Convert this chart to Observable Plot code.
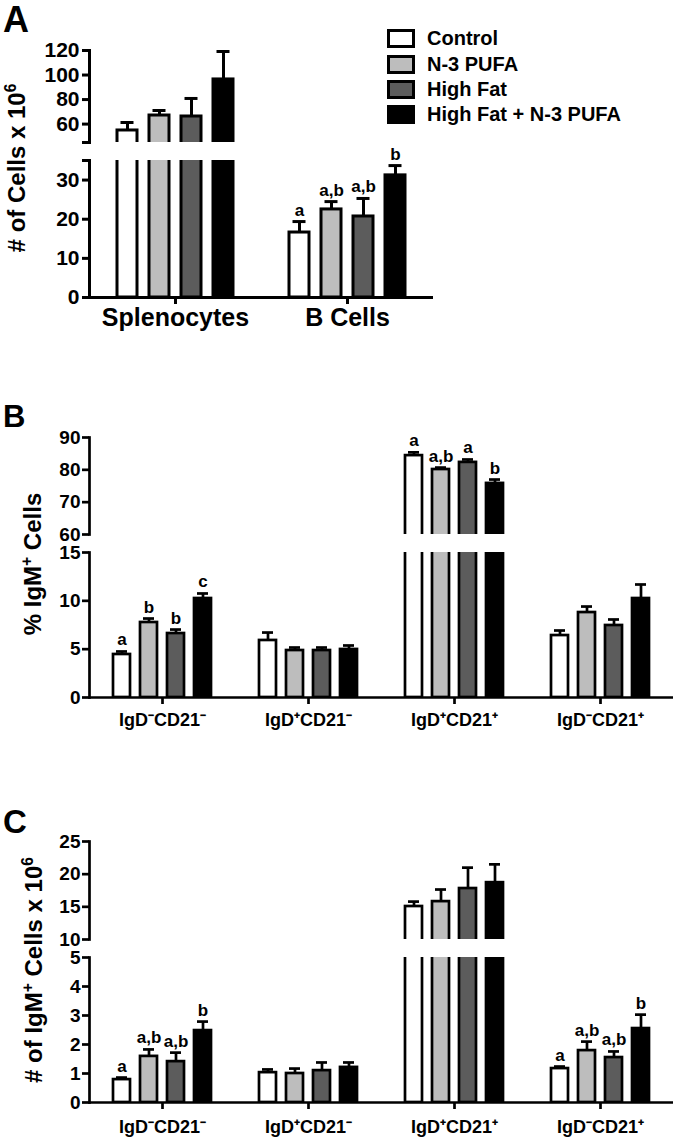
<!DOCTYPE html>
<html>
<head>
<meta charset="utf-8">
<script src="https://cdn.jsdelivr.net/npm/d3@7"></script>
<script src="https://cdn.jsdelivr.net/npm/@observablehq/plot@0.6"></script>
<style>
  body { margin: 0; background: #fff; }
  #root { position: relative; width: 677px; height: 1141px; overflow: hidden;
          font-family: "Liberation Sans", Arial, sans-serif; font-weight: bold; color: #000; background: #fff; }
  .panel { position: absolute; line-height: 1; }
  .ylab { position: absolute; white-space: nowrap; font-size: 24px; line-height: 1;
          transform: translate(-50%, -50%) rotate(-90deg); }
  .ylab sup { font-size: 0.65em; vertical-align: 0.55em; line-height: 0; }
  .leg-row { position: absolute; left: 387px; display: flex; align-items: center; font-size: 20px; line-height: 19px; white-space: nowrap; }
  .swatch { width: 22px; height: 13px; border: 3px solid #000; margin-right: 12px; }
  svg.segA g[aria-label="y-axis tick label"] text { font-size: 21px; }
  svg.segBC g[aria-label="y-axis tick label"] text { font-size: 19px; }
</style>
</head>
<body>
<div id="root"></div>
<script>
// ---------- data ----------
const treatments = ["Control", "N-3 PUFA", "High Fat", "High Fat + N-3 PUFA"];
const treatmentFills = ["#ffffff", "#bdbdbd", "#5c5c5c", "#000000"];

// Panel A: # of cells x 10^6
const aGroups = ["Splenocytes", "B Cells"];
const aMeans = [[54.8, 67.0, 66.2, 96.4], [16.6, 22.5, 20.7, 31.2]];
const aSems = [[6.5, 4.1, 14.7, 22.8], [2.8, 2.0, 4.6, 2.5]];
const aLetters = [["", "", "", ""], ["a", "a,b", "a,b", "b"]];
const aUpperTicks = [45, 60, 80, 100, 120];
const aLowerTicks = [0, 10, 20, 30, 35];
const aUnlabeledTicks = [45, 35];

// Panel B: % IgM+ cells
const subsetGroups = ["IgD⁻CD21⁻", "IgD⁺CD21⁻", "IgD⁺CD21⁺", "IgD⁻CD21⁺"];
const bMeans = [[4.45, 7.76, 6.62, 10.24], [5.9, 4.86, 4.86, 4.97], [84.4, 80.1, 82.3, 75.8], [6.41, 8.79, 7.45, 10.24]];
const bSems = [[0.31, 0.41, 0.41, 0.52], [0.82, 0.31, 0.31, 0.41], [1.0, 0.6, 0.9, 1.2], [0.52, 0.62, 0.62, 1.45]];
const bLetters = [["a", "b", "b", "c"], ["", "", "", ""], ["a", "a,b", "a", "b"], ["", "", "", ""]];
const bUpperTicks = [60, 70, 80, 90];
const bLowerTicks = [0, 5, 10, 15];

// Panel C: # of IgM+ cells x 10^6
const cMeans = [[0.79, 1.59, 1.41, 2.48], [1.03, 1.0, 1.10, 1.21], [15.05, 15.8, 17.8, 18.7], [1.17, 1.79, 1.55, 2.55]];
const cSems = [[0.07, 0.24, 0.31, 0.31], [0.11, 0.17, 0.28, 0.17], [0.75, 1.85, 3.2, 2.8], [0.07, 0.31, 0.21, 0.48]];
const cLetters = [["a", "a,b", "a,b", "b"], ["", "", "", ""], ["", "", "", ""], ["a", "a,b", "a,b", "b"]];
const cUpperTicks = [10, 15, 20, 25];
const cLowerTicks = [0, 1, 2, 3, 4, 5];

// ---------- rendering ----------
const FONT = "Liberation Sans, Arial, sans-serif";
const root = document.getElementById("root");

function rowsOf(groups, means, sems, letters) {
  return groups.flatMap((g, i) => treatments.map((t, j) => ({
    group: g, treatment: t, mean: means[i][j], top: means[i][j] + sems[i][j], letter: letters[i][j]
  })));
}

function segment(cfg) {
  const {rows, groups, domain, ticks, unlabeled = [], frameTop, frameBottom, marginRight, cls,
         xPadIn, xPadOut, sw, tickFontSize, tickPad, capInset, lower, fxFont, fxFontSize, fxPad} = cfg;
  const mt = 26, mb = lower ? 46 : 0;
  const labelled = rows.filter(d => d.letter && d.top >= domain[0] && d.top <= domain[1]);
  const marks = [
    Plot.barY(rows, {fx: "group", x: "treatment", y: "mean", fill: "treatment",
      stroke: "black", strokeWidth: sw, clip: true}),
    Plot.ruleX(rows, {fx: "group", x: "treatment", y1: "mean", y2: "top",
      stroke: "black", strokeWidth: sw, clip: true}),
    Plot.tickY(rows, {fx: "group", x: "treatment", y: "top", stroke: "black", strokeWidth: sw,
      insetLeft: capInset, insetRight: capInset, clip: true}),
    Plot.text(labelled, {fx: "group", x: "treatment", y: "top", text: "letter", lineAnchor: "bottom",
      dy: -6, fontSize: 17, fontWeight: "bold", fontFamily: FONT, fill: "black"}),
    Plot.frame({anchor: "left", facetAnchor: "left", stroke: "black", strokeWidth: sw}),
    Plot.axisY(ticks, {tickSize: 7, tickPadding: tickPad, strokeWidth: sw, color: "black",
      tickFormat: d => unlabeled.includes(d) ? "" : String(d),
      fontSize: tickFontSize, fontWeight: "bold", fontFamily: FONT, label: null})
  ];
  if (lower) {
    marks.push(Plot.ruleY([0], {stroke: "black", strokeWidth: sw}));
    marks.push(Plot.axisFx({anchor: "bottom", tickSize: 7, tickPadding: fxPad, stroke: "black", fill: "black",
      strokeWidth: sw, fontSize: fxFontSize, fontWeight: "bold", fontFamily: fxFont, label: null}));
  }
  const svg = Plot.plot({
    width: 677,
    height: mt + (frameBottom - frameTop) + mb,
    marginTop: mt, marginBottom: mb, marginLeft: 88, marginRight,
    className: cls,
    style: {background: "transparent", overflow: "visible", color: "black",
            fontFamily: FONT, fontWeight: "bold", fontSize: tickFontSize + "px"},
    fx: {domain: groups, padding: 0, axis: null, label: null},
    x: {domain: treatments, paddingInner: xPadIn, paddingOuter: xPadOut, axis: null},
    y: {domain, axis: null},
    color: {domain: treatments, range: treatmentFills},
    marks
  });
  svg.classList.add(cls);
  svg.style.position = "absolute";
  svg.style.left = "0px";
  svg.style.top = (frameTop - mt) + "px";
  root.appendChild(svg);
}

function addHTML(html) {
  const d = document.createElement("div");
  d.innerHTML = html;
  while (d.firstChild) root.appendChild(d.firstChild);
}

// Panel A
const aRows = rowsOf(aGroups, aMeans, aSems, aLetters);
const aCommon = {rows: aRows, groups: aGroups, marginRight: 244, xPadIn: 0.385, xPadOut: 0.846, sw: 3, cls: "segA",
  tickFontSize: 21, tickPad: 3, capInset: 3.5, unlabeled: aUnlabeledTicks};
segment({...aCommon, domain: [45, 120], ticks: aUpperTicks, frameTop: 50, frameBottom: 142, lower: false});
segment({...aCommon, domain: [0, 35], ticks: aLowerTicks, frameTop: 160, frameBottom: 297, lower: true,
  fxFont: FONT, fxFontSize: 25, fxPad: 4});

// Panel B
const bRows = rowsOf(subsetGroups, bMeans, bSems, bLetters);
const bcCommon = {groups: subsetGroups, marginRight: 4, xPadIn: 0.37, xPadOut: 0.83, sw: 2.7, cls: "segBC",
  tickFontSize: 19, tickPad: 2, capInset: 3,
  fxFont: "Liberation Sans Narrow, Liberation Sans, Arial, sans-serif", fxFontSize: 18};
segment({...bcCommon, rows: bRows, domain: [60, 90], ticks: bUpperTicks, frameTop: 437, frameBottom: 534, lower: false});
segment({...bcCommon, rows: bRows, domain: [0, 15], ticks: bLowerTicks, frameTop: 552, frameBottom: 697, lower: true, fxPad: 9});

// Panel C
const cRows = rowsOf(subsetGroups, cMeans, cSems, cLetters);
segment({...bcCommon, rows: cRows, domain: [10, 25], ticks: cUpperTicks, frameTop: 841, frameBottom: 939, lower: false});
segment({...bcCommon, rows: cRows, domain: [0, 5], ticks: cLowerTicks, frameTop: 957, frameBottom: 1102, lower: true, fxPad: 11});

// Panel letters, axis titles, legend
addHTML(`<div class="panel" style="left:3px;top:2px;font-size:36px">A</div>`);
addHTML(`<div class="panel" style="left:3px;top:401px;font-size:31px">B</div>`);
addHTML(`<div class="panel" style="left:3px;top:805px;font-size:33px">C</div>`);
addHTML(`<div class="ylab" style="left:17px;top:168px"># of Cells x 10<sup>6</sup></div>`);
addHTML(`<div class="ylab" style="left:33px;top:564px">% IgM<sup>+</sup> Cells</div>`);
addHTML(`<div class="ylab" style="left:34px;top:970px"># of IgM<sup>+</sup> Cells x 10<sup>6</sup></div>`);
const legendTops = [29, 55, 80, 105];
treatments.forEach((t, i) => {
  addHTML(`<div class="leg-row" style="top:${legendTops[i]}px"><div class="swatch" style="background:${treatmentFills[i]}"></div><span>${t}</span></div>`);
});
</script>
</body>
</html>
